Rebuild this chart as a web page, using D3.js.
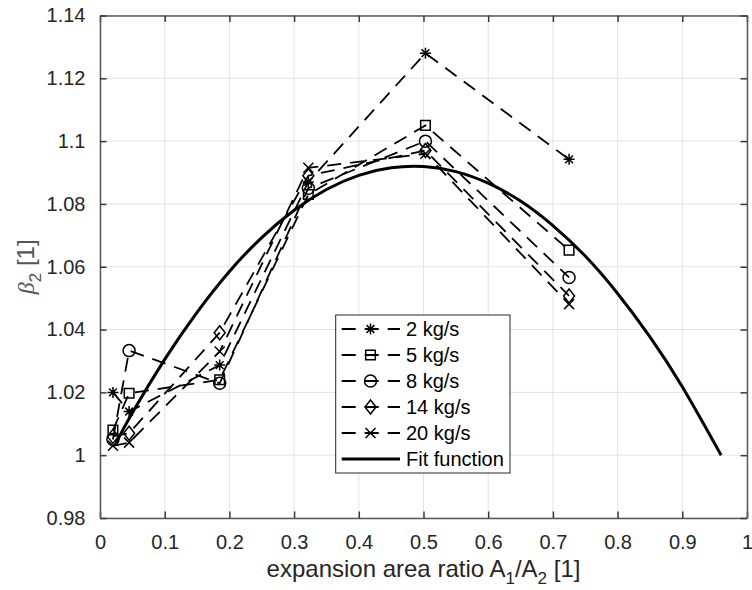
<!DOCTYPE html>
<html>
<head>
<meta charset="utf-8">
<script src="https://cdn.jsdelivr.net/npm/d3@7"></script>
<style>
  html, body { margin: 0; padding: 0; background: #fff; }
  svg { display: block; font-family: "Liberation Sans", Arial, sans-serif; }
</style>
</head>
<body>
<svg id="chart" width="752" height="590"></svg>
<script>
// Expansion area ratios at which beta_2 was measured
const areaRatio = [0.02, 0.045, 0.185, 0.322, 0.503, 0.725];

// Measured beta_2 per mass flow rate
const flow2  = [1.0200, 1.0139, 1.0287, 1.0870, 1.1280, 1.0942];
const flow5  = [1.0080, 1.0197, 1.0240, 1.0830, 1.1050, 1.0653];
const flow8  = [1.0050, 1.0333, 1.0229, 1.0850, 1.1000, 1.0566];
const flow14 = [1.0060, 1.0070, 1.0390, 1.0890, 1.0970, 1.0507];
const flow20 = [1.0030, 1.0040, 1.0330, 1.0915, 1.0960, 1.0481];

const seriesNames = ["2 kg/s", "5 kg/s", "8 kg/s", "14 kg/s", "20 kg/s"];
const seriesMarkers = ["asterisk", "square", "circle", "diamond", "cross"];
const seriesValues = [flow2, flow5, flow8, flow14, flow20];

// Fit function sampled along the ratio axis
const fitX = [0.025, 0.05, 0.1, 0.15, 0.2, 0.25, 0.3, 0.35, 0.4, 0.45, 0.5,
              0.55, 0.6, 0.65, 0.7, 0.75, 0.8, 0.85, 0.9, 0.96];
const fitY = [1.0040, 1.0135, 1.0305, 1.0455, 1.0585, 1.0693, 1.0780, 1.0846, 1.0891, 1.0915, 1.0919,
              1.0903, 1.0866, 1.0809, 1.0731, 1.0634, 1.0515, 1.0377, 1.0218, 1.0000];
const fitName = "Fit function";

// Axis ticks
const xTicks = [0, 0.1, 0.2, 0.3, 0.4, 0.5, 0.6, 0.7, 0.8, 0.9, 1];
const xTickLabels = ["0", "0.1", "0.2", "0.3", "0.4", "0.5", "0.6", "0.7", "0.8", "0.9", "1"];
const yTicks = [0.98, 1, 1.02, 1.04, 1.06, 1.08, 1.1, 1.12, 1.14];
const yTickLabels = ["0.98", "1", "1.02", "1.04", "1.06", "1.08", "1.1", "1.12", "1.14"];

const svg = d3.select("#chart");
const plot = { left: 100, right: 747, top: 15.5, bottom: 518 };
const x = d3.scaleLinear().domain([0, 1]).range([plot.left, plot.right]);
const y = d3.scaleLinear().domain([0.98, 1.14]).range([plot.bottom, plot.top]);

const axisColor = "#262626";
const fontSize = 20;

// Grid
const grid = svg.append("g").attr("stroke", "#e3e3e3").attr("stroke-width", 1);
xTicks.forEach(t => grid.append("line")
  .attr("x1", x(t)).attr("x2", x(t)).attr("y1", plot.top).attr("y2", plot.bottom));
yTicks.forEach(t => grid.append("line")
  .attr("x1", plot.left).attr("x2", plot.right).attr("y1", y(t)).attr("y2", y(t)));

// Axes with inward ticks on all four sides
const tickLen = 6.5;
const xAxisB = d3.axisBottom(x).tickValues(xTicks).tickSizeInner(-tickLen).tickSizeOuter(0)
  .tickPadding(tickLen + 10).tickFormat((d, i) => xTickLabels[i]);
const xAxisT = d3.axisTop(x).tickValues(xTicks).tickSizeInner(-tickLen).tickSizeOuter(0).tickFormat("");
const yAxisL = d3.axisLeft(y).tickValues(yTicks).tickSizeInner(-tickLen).tickSizeOuter(0)
  .tickPadding(tickLen + 8).tickFormat((d, i) => yTickLabels[i]);
const yAxisR = d3.axisRight(y).tickValues(yTicks).tickSizeInner(-tickLen).tickSizeOuter(0).tickFormat("");

function styleAxis(g) {
  g.select(".domain").attr("stroke", "#5a5a5a").attr("stroke-width", 1.5);
  g.selectAll(".tick line").attr("stroke", "#3a3a3a").attr("stroke-width", 1.5);
  g.selectAll(".tick text").attr("fill", axisColor).attr("font-size", fontSize)
    .attr("font-family", "Liberation Sans, Arial, sans-serif");
}
svg.append("g").attr("transform", `translate(0,${plot.bottom})`).call(xAxisB).call(styleAxis);
svg.append("g").attr("transform", `translate(0,${plot.top})`).call(xAxisT).call(styleAxis);
svg.append("g").attr("transform", `translate(${plot.left},0)`).call(yAxisL).call(styleAxis);
svg.append("g").attr("transform", `translate(${plot.right},0)`).call(yAxisR).call(styleAxis);

// Marker shapes
function markerPath(type) {
  const p = d3.path();
  if (type === "asterisk") {
    const r = 5.5, d = r * Math.SQRT1_2;
    p.moveTo(-r, 0); p.lineTo(r, 0);
    p.moveTo(0, -r); p.lineTo(0, r);
    p.moveTo(-d, -d); p.lineTo(d, d);
    p.moveTo(-d, d); p.lineTo(d, -d);
  } else if (type === "square") {
    const s = 4.8;
    p.rect(-s, -s, 2 * s, 2 * s);
  } else if (type === "circle") {
    p.arc(0, 0, 6, 0, 2 * Math.PI);
  } else if (type === "diamond") {
    const w = 5.5, h = 7;
    p.moveTo(0, -h); p.lineTo(w, 0); p.lineTo(0, h); p.lineTo(-w, 0); p.closePath();
  } else if (type === "cross") {
    const r = 5;
    p.moveTo(-r, -r); p.lineTo(r, r);
    p.moveTo(-r, r); p.lineTo(r, -r);
  }
  return p.toString();
}

const plotArea = svg.append("g");
const lineGen = d3.line().x(d => x(d[0])).y(d => y(d[1]));

// Measured series: dashed lines with markers
seriesValues.forEach((vals, i) => {
  const pts = areaRatio.map((r, j) => [r, vals[j]]);
  plotArea.append("path").attr("d", lineGen(pts))
    .attr("fill", "none").attr("stroke", "#000").attr("stroke-width", 1.8)
    .attr("stroke-dasharray", "14,9");
  plotArea.selectAll(null).data(pts).enter().append("path")
    .attr("d", markerPath(seriesMarkers[i]))
    .attr("transform", d => `translate(${x(d[0])},${y(d[1])})`)
    .attr("fill", "none").attr("stroke", "#000").attr("stroke-width", 1.5);
});

// Fit function
const fitPts = fitX.map((v, i) => [v, fitY[i]]);
plotArea.append("path")
  .attr("d", d3.line().x(d => x(d[0])).y(d => y(d[1])).curve(d3.curveNatural)(fitPts))
  .attr("fill", "none").attr("stroke", "#000").attr("stroke-width", 3);

// Legend
const legend = svg.append("g");
const lg = { left: 335.7, right: 510, top: 315, bottom: 473 };
legend.append("rect")
  .attr("x", lg.left).attr("y", lg.top)
  .attr("width", lg.right - lg.left).attr("height", lg.bottom - lg.top)
  .attr("fill", "#fff").attr("stroke", "#262626").attr("stroke-width", 1);
const rowY = d3.range(6).map(i => 329 + i * 26);
seriesNames.forEach((name, i) => {
  const ry = rowY[i];
  legend.append("line").attr("x1", 341.7).attr("x2", 400).attr("y1", ry).attr("y2", ry)
    .attr("stroke", "#000").attr("stroke-width", 1.8).attr("stroke-dasharray", "14,9");
  legend.append("path").attr("d", markerPath(seriesMarkers[i]))
    .attr("transform", `translate(370.5,${ry})`)
    .attr("fill", "none").attr("stroke", "#000").attr("stroke-width", 1.5);
  legend.append("text").attr("x", 406).attr("y", ry).attr("dy", "0.35em")
    .attr("font-size", fontSize).attr("fill", "#000").text(name);
});
legend.append("line").attr("x1", 341.7).attr("x2", 400).attr("y1", rowY[5]).attr("y2", rowY[5])
  .attr("stroke", "#000").attr("stroke-width", 3);
legend.append("text").attr("x", 406).attr("y", rowY[5]).attr("dy", "0.35em")
  .attr("font-size", fontSize).attr("fill", "#000").text(fitName);

// Axis labels
const xLabel = svg.append("text")
  .attr("x", (plot.left + plot.right) / 2).attr("y", 577)
  .attr("text-anchor", "middle").attr("font-size", 24).attr("fill", axisColor);
xLabel.append("tspan").text("expansion area ratio A");
xLabel.append("tspan").attr("font-size", 17).attr("dy", 7).text("1");
xLabel.append("tspan").attr("dy", -7).text("/A");
xLabel.append("tspan").attr("font-size", 17).attr("dy", 7).text("2");
xLabel.append("tspan").attr("dy", -7).text(" [1]");

const yLabel = svg.append("text")
  .attr("transform", `translate(34,${(plot.top + plot.bottom) / 2}) rotate(-90)`)
  .attr("text-anchor", "middle").attr("font-size", 24).attr("fill", "#555");
yLabel.append("tspan").attr("font-family", "Liberation Serif, DejaVu Serif, serif")
  .attr("font-style", "italic").text("β");
yLabel.append("tspan").attr("font-size", 17).attr("dy", 7).text("2");
yLabel.append("tspan").attr("dy", -7).text(" [1]");
</script>
</body>
</html>
